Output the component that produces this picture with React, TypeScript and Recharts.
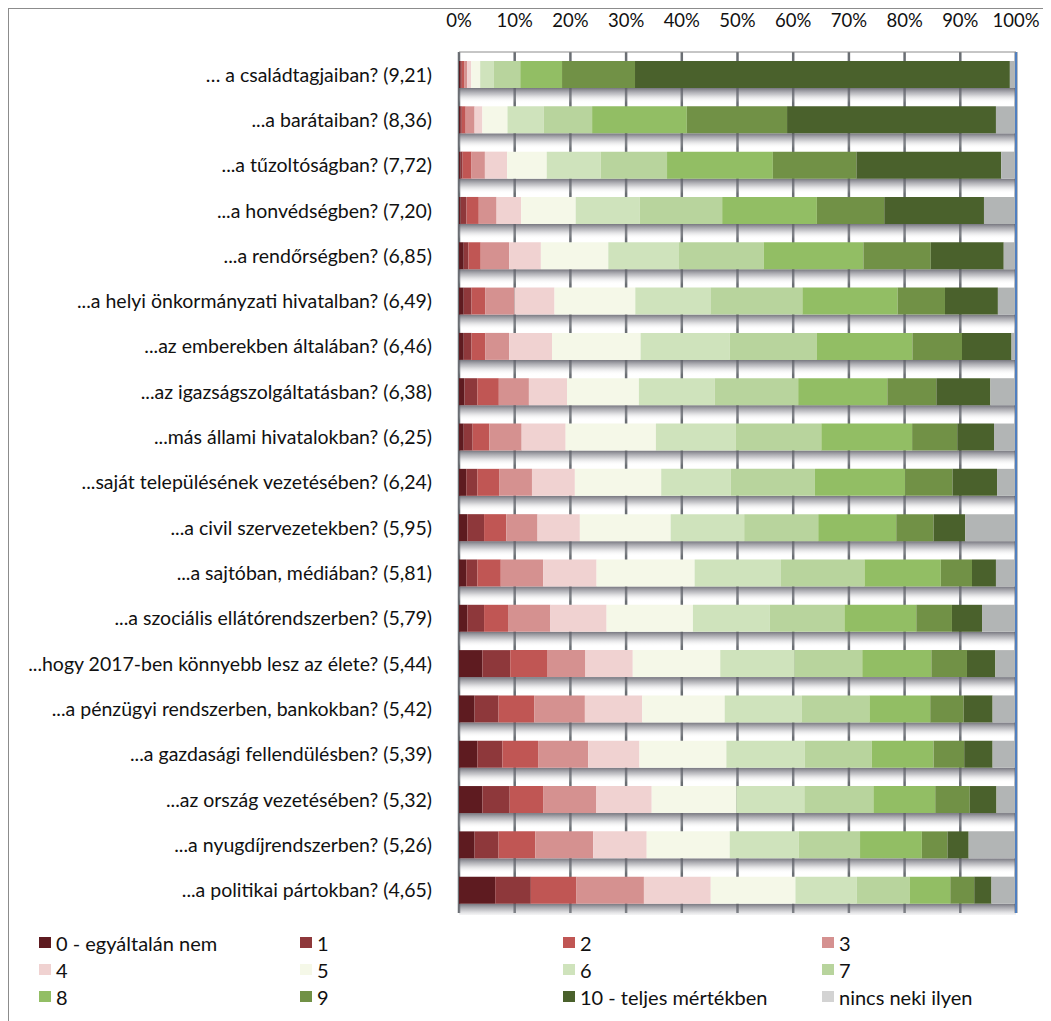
import React from "react"
import { Bar, BarChart, CartesianGrid, ReferenceLine, XAxis, YAxis } from "recharts"

const categories = [
  "… a családtagjaiban? (9,21)",
  "...a barátaiban? (8,36)",
  "...a tűzoltóságban? (7,72)",
  "...a honvédségben? (7,20)",
  "...a rendőrségben? (6,85)",
  "...a helyi önkormányzati hivatalban? (6,49)",
  "...az emberekben általában? (6,46)",
  "...az igazságszolgáltatásban? (6,38)",
  "...más állami hivatalokban? (6,25)",
  "...saját településének vezetésében? (6,24)",
  "...a civil szervezetekben? (5,95)",
  "...a sajtóban, médiában? (5,81)",
  "...a szociális ellátórendszerben? (5,79)",
  "...hogy 2017-ben könnyebb lesz az élete? (5,44)",
  "...a pénzügyi rendszerben, bankokban? (5,42)",
  "...a gazdasági fellendülésben? (5,39)",
  "...az ország vezetésében? (5,32)",
  "...a nyugdíjrendszerben? (5,26)",
  "...a politikai pártokban? (4,65)",
]

// share of answers (%) per score, same order as categories
const score0 = [0.2, 0.2, 0.3, 0.3, 0.85, 0.85, 0.85, 1.0, 0.85, 1.3, 1.5, 1.3, 1.5, 4.2, 2.8, 3.3, 4.2, 2.8, 6.5]
const score1 = [0.3, 0.3, 0.35, 1.05, 0.85, 1.4, 1.4, 2.3, 1.6, 2.0, 3.0, 2.0, 3.0, 5.0, 4.3, 4.5, 4.9, 4.3, 6.4]
const score2 = [0.5, 0.7, 1.6, 2.2, 2.2, 2.45, 2.45, 3.85, 3.0, 3.9, 4.0, 4.2, 4.3, 6.6, 6.4, 6.4, 6.0, 6.6, 8.2]
const score3 = [0.5, 1.6, 2.4, 3.2, 5.1, 5.25, 4.3, 5.4, 5.8, 5.9, 5.6, 7.6, 7.6, 6.9, 9.1, 9.0, 9.5, 10.4, 12.1]
const score4 = [0.7, 1.4, 4.0, 4.4, 5.7, 7.2, 7.7, 6.85, 7.9, 7.7, 7.6, 9.6, 10.1, 8.5, 10.3, 9.2, 10.0, 9.6, 12.0]
const score5 = [1.6, 4.5, 7.1, 9.8, 12.1, 14.5, 15.9, 12.9, 16.2, 15.5, 16.3, 17.6, 15.5, 15.7, 14.8, 15.6, 15.2, 14.9, 15.2]
const score6 = [2.4, 6.5, 9.7, 11.5, 12.7, 13.5, 16.0, 13.6, 14.3, 12.5, 13.2, 15.5, 13.8, 13.3, 13.8, 14.1, 12.2, 12.4, 11.0]
const score7 = [4.8, 8.7, 11.9, 14.8, 15.2, 16.5, 15.6, 15.0, 15.4, 15.1, 13.3, 15.0, 13.4, 12.2, 12.2, 12.0, 12.4, 11.0, 9.5]
const score8 = [7.5, 17.0, 19.0, 17.0, 17.9, 17.1, 17.2, 16.0, 16.3, 16.2, 14.0, 13.7, 12.9, 12.4, 10.9, 11.1, 11.1, 11.1, 7.3]
const score9 = [13.1, 18.0, 15.0, 12.1, 12.1, 8.5, 8.9, 8.8, 8.1, 8.5, 6.7, 5.6, 6.4, 6.4, 6.0, 5.5, 6.2, 4.6, 4.3]
const score10 = [67.3, 37.5, 26.0, 17.9, 13.1, 9.5, 8.9, 9.7, 6.6, 8.0, 5.7, 4.3, 5.4, 5.1, 5.2, 5.1, 4.8, 3.8, 3.1]
const noneAnswer = [1.1, 3.6, 2.65, 5.75, 2.2, 3.25, 0.8, 4.6, 3.95, 3.4, 9.1, 3.6, 6.1, 3.7, 4.2, 4.2, 3.5, 8.5, 4.4]

const xTicks = [0, 10, 20, 30, 40, 50, 60, 70, 80, 90, 100]

const seriesList = [
  { key: "s0", label: "0 - egyáltalán nem", values: score0, color: "#5e1b20", legend: "#5e1b20" },
  { key: "s1", label: "1", values: score1, color: "#8e383b", legend: "#8e383b" },
  { key: "s2", label: "2", values: score2, color: "#c05654", legend: "#c05654" },
  { key: "s3", label: "3", values: score3, color: "#d59190", legend: "#d59190" },
  { key: "s4", label: "4", values: score4, color: "#f0d2d1", legend: "#f0d2d1" },
  { key: "s5", label: "5", values: score5, color: "#f5f8e8", legend: "#f5f8e8" },
  { key: "s6", label: "6", values: score6, color: "#cfe3bc", legend: "#cfe3bc" },
  { key: "s7", label: "7", values: score7, color: "#b8d49d", legend: "#b8d49d" },
  { key: "s8", label: "8", values: score8, color: "#92be64", legend: "#92be64" },
  { key: "s9", label: "9", values: score9, color: "#719146", legend: "#719146" },
  { key: "s10", label: "10 - teljes mértékben", values: score10, color: "#4a612c", legend: "#4a612c" },
  { key: "none", label: "nincs neki ilyen", values: noneAnswer, color: "#b2b5b5", legend: "#d3d3d3" },
]

const data = categories.map((name, i) => {
  const row: Record<string, string | number> = { name }
  seriesList.forEach((s) => {
    row[s.key] = s.values[i]
  })
  return row
})

const font = "Lato, sans-serif"

const Shadow = (props: any) => {
  const { x, y, width, height } = props
  return <rect x={x} y={y + height} width={width} height={15} fill="url(#barShadow)" />
}

export default function App() {
  return (
    <div
      style={{
        width: 1043,
        height: 1013,
        borderTop: "1px solid #8c8c8c",
        borderLeft: "1px solid #8c8c8c",
        boxSizing: "border-box",
        fontFamily: font,
        background: "#fff",
      }}
    >
      <BarChart
        width={1037}
        height={906}
        data={data}
        layout="vertical"
        barSize={27}
        margin={{ top: 0, right: 30, bottom: 2, left: 0 }}
      >
        <defs>
          <linearGradient id="barShadow" x1="0" y1="0" x2="0" y2="1">
            <stop offset="0%" stopColor="#5e5e68" stopOpacity={0.85} />
            <stop offset="45%" stopColor="#8a8a92" stopOpacity={0.45} />
            <stop offset="100%" stopColor="#ffffff" stopOpacity={0} />
          </linearGradient>
        </defs>
        <CartesianGrid horizontal={false} stroke="#6a6e73" strokeWidth={2.5} />
        <XAxis
          type="number"
          orientation="top"
          domain={[0, 100]}
          ticks={xTicks}
          tickFormatter={(v) => `${v}%`}
          height={43}
          tickSize={0}
          tickMargin={25}
          axisLine={{ stroke: "#8c8c8c" }}
          tick={{ fontSize: 18.5, fill: "#111", fontFamily: font }}
        />
        <XAxis
          xAxisId="bottom"
          type="number"
          orientation="bottom"
          domain={[0, 100]}
          height={0}
          tick={false}
          tickLine={false}
          axisLine={{ stroke: "#8ea9cf", strokeWidth: 2 }}
        />
        <YAxis
          type="category"
          dataKey="name"
          width={450}
          tickSize={0}
          tickMargin={27}
          axisLine={false}
          tickLine={false}
          interval={0}
          tick={{ fontSize: 19.5, fill: "#111", fontFamily: font }}
        />
        {seriesList.map((s, i) => (
          <Bar
            key={s.key}
            dataKey={s.key}
            stackId="a"
            fill={s.color}
            isAnimationActive={false}
            background={i === 0 ? Shadow : undefined}
          />
        ))}
        <ReferenceLine x={100} stroke="#4f7fc0" strokeWidth={2} />
      </BarChart>
      <div
        style={{
          display: "grid",
          gridTemplateColumns: "261px 263px 259px 200px",
          rowGap: 6,
          paddingLeft: 30,
          paddingTop: 17,
          fontSize: 20,
          color: "#111",
        }}
      >
        {seriesList.map((s) => (
          <div key={s.key} style={{ display: "flex", alignItems: "center", height: 21 }}>
            <span style={{ width: 12, height: 11, background: s.legend, marginRight: 5, display: "inline-block" }} />
            <span>{s.label}</span>
          </div>
        ))}
      </div>
    </div>
  )
}
